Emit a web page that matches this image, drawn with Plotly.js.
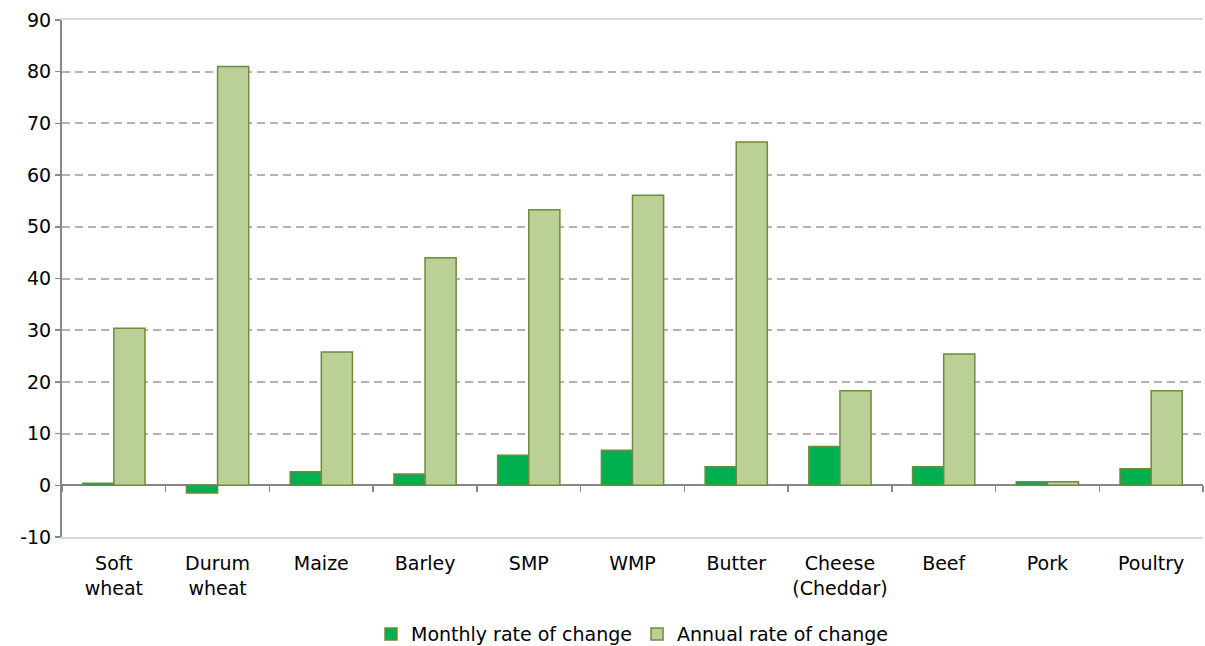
<!DOCTYPE html>
<html>
<head>
<meta charset="utf-8">
<script src="https://cdn.plot.ly/plotly-3.0.1.min.js"></script>
<style>html,body{margin:0;padding:0;background:#fff;}#chart{width:1205px;height:646px;}</style>
</head>
<body>
<div id="chart"></div>
<script>
const categories = ["Soft<br>wheat", "Durum<br>wheat", "Maize", "Barley", "SMP", "WMP", "Butter", "Cheese<br>(Cheddar)", "Beef", "Pork", "Poultry"];
const monthlyRate = [0.4, -1.5, 2.6, 2.2, 5.8, 6.8, 3.6, 7.5, 3.6, 0.7, 3.2];
const annualRate = [30.4, 81.0, 25.8, 44.0, 53.3, 56.1, 66.4, 18.3, 25.4, 0.7, 18.3];
const seriesNames = ["Monthly rate of change", "Annual rate of change"];
const yTicks = [-10, 0, 10, 20, 30, 40, 50, 60, 70, 80, 90];

const font = {family: "DejaVu Sans, Verdana, sans-serif", size: 19, color: "#000"};
const outline = "#6E8B3D";

const traces = [
  {type: "bar", name: seriesNames[0], x: categories, y: monthlyRate,
   marker: {color: "#00B050", line: {color: outline, width: 1.5}}, hoverinfo: "y"},
  {type: "bar", name: seriesNames[1], x: categories, y: annualRate,
   marker: {color: "#BBD097", line: {color: outline, width: 1.5}}, hoverinfo: "y"},
  {type: "scatter", mode: "none", x: categories, y: categories.map(() => null),
   xaxis: "x2", showlegend: false, hoverinfo: "skip"}
];

const layout = {
  width: 1205, height: 646,
  margin: {l: 62, r: 2, t: 20, b: 109, autoexpand: false},
  paper_bgcolor: "#fff", plot_bgcolor: "#fff",
  font: font,
  barmode: "group", bargap: 0.4, bargroupgap: 0,
  showlegend: true,
  legend: {orientation: "h", x: 0.5, xanchor: "center", y: -0.188, yanchor: "middle",
           font: font, traceorder: "normal", itemwidth: 30},
  xaxis: {type: "category", showgrid: false, zeroline: false, automargin: false,
          showline: true, linecolor: "#D9D9D9", linewidth: 2, mirror: true,
          ticks: "", tickfont: font, ticklabelstandoff: 8, fixedrange: true},
  xaxis2: {type: "category", overlaying: "x", matches: "x", anchor: "free", position: 0.1,
           showgrid: false, zeroline: false, showline: false, showticklabels: false,
           ticks: "outside", tickson: "boundaries", ticklen: 6, tickwidth: 1.5, tickcolor: "#888"},
  yaxis: {range: [-10, 90], tickvals: yTicks, ticktext: yTicks.map(String), automargin: false,
          showgrid: true, gridcolor: "#B3B3B3", gridwidth: 2, griddash: "8px,5px",
          zeroline: true, zerolinecolor: "#888", zerolinewidth: 2,
          showline: true, linecolor: "#888", linewidth: 2,
          ticks: "outside", ticklen: 5, tickcolor: "#888", tickwidth: 1.5,
          tickfont: font, fixedrange: true}
};

Plotly.newPlot("chart", traces, layout, {displayModeBar: false, staticPlot: true});
</script>
</body>
</html>
